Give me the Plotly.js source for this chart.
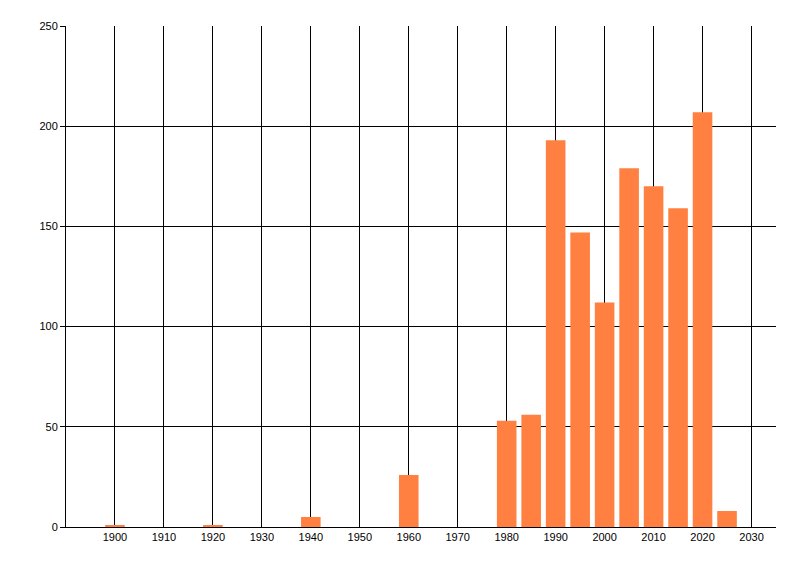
<!DOCTYPE html>
<html>
<head>
<meta charset="utf-8">
<script src="https://cdn.plot.ly/plotly-3.0.1.min.js"></script>
<style>
  body { margin: 0; background: #fff; }
  #grapharea { width: 800px; height: 576px; }
</style>
</head>
<body>
<div id="grapharea"></div>
<script>
// Years (bin centres) and counts
var years = [1900, 1920, 1940, 1960, 1980, 1985, 1990, 1995, 2000, 2005, 2010, 2015, 2020, 2025];
var counts = [1, 1, 5, 26, 53, 56, 193, 147, 112, 179, 170, 159, 207, 8];
var xticks = [1900, 1910, 1920, 1930, 1940, 1950, 1960, 1970, 1980, 1990, 2000, 2010, 2020, 2030];

var trace = {
  x: years,
  y: counts,
  type: 'bar',
  width: 4,
  marker: { color: 'rgb(255,128,64)' },
  hoverinfo: 'x+y'
};

var layout = {
  width: 800,
  height: 576,
  margin: { l: 66, r: 24, t: 26, b: 49 },
  paper_bgcolor: '#fff',
  plot_bgcolor: '#fff',
  showlegend: false,
  font: { family: 'Liberation Sans, DejaVu Sans, sans-serif', size: 11, color: '#000' },
  xaxis: {
    range: [1890, 2035],
    tickmode: 'array',
    tickvals: xticks,
    ticktext: xticks.map(String),
    showgrid: true,
    gridcolor: '#000',
    gridwidth: 1,
    showline: true,
    linecolor: '#000',
    linewidth: 1,
    ticks: '',
    zeroline: false,
    fixedrange: true
  },
  yaxis: {
    range: [0, 250],
    dtick: 50,
    showgrid: true,
    gridcolor: '#000',
    gridwidth: 1,
    showline: true,
    linecolor: '#000',
    linewidth: 1,
    ticks: 'outside',
    ticklen: 5,
    tickcolor: '#000',
    zeroline: false,
    fixedrange: true
  }
};

try { Plotly.newPlot('grapharea', [trace], layout, { displayModeBar: false, staticPlot: true }); }
catch (err) { console.log(err); }
</script>
</body>
</html>
